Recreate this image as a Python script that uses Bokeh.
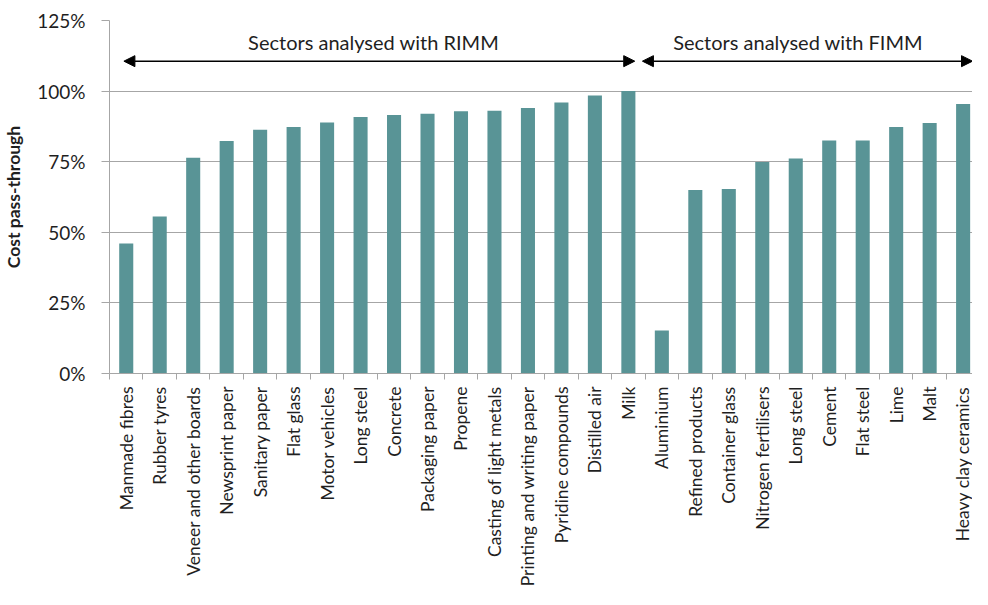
from math import pi
from bokeh.plotting import figure
from bokeh.models import (Range1d, FixedTicker, NumeralTickFormatter, Arrow,
                          NormalHead, Label, ColumnDataSource)
from bokeh.embed import file_html
from bokeh.resources import INLINE

# ---- data ----
rimm_sectors = ["Manmade fibres", "Rubber tyres", "Veneer and other boards",
                "Newsprint paper", "Sanitary paper", "Flat glass", "Motor vehicles",
                "Long steel", "Concrete", "Packaging paper", "Propene",
                "Casting of light metals", "Printing and writing paper",
                "Pyridine compounds", "Distilled air", "Milk"]
rimm_values = [0.46, 0.556, 0.764, 0.823, 0.863, 0.873, 0.889, 0.908, 0.915,
               0.920, 0.929, 0.930, 0.940, 0.960, 0.984, 1.00]
fimm_sectors = ["Aluminium", "Refined products", "Container glass",
                "Nitrogen fertilisers", "Long steel", "Cement", "Flat steel",
                "Lime", "Malt", "Heavy clay ceramics"]
fimm_values = [0.152, 0.650, 0.653, 0.749, 0.761, 0.825, 0.825, 0.873, 0.887, 0.954]
y_ticks = [0, 0.25, 0.5, 0.75, 1.0, 1.25]
group_titles = ["Sectors analysed with RIMM", "Sectors analysed with FIMM"]

sectors = rimm_sectors + fimm_sectors
values = rimm_values + fimm_values
n_rimm = len(rimm_sectors)
n_all = len(sectors)
xs = list(range(n_all))

FONT = "Lato"
GRID = "#a6a6a6"
TEXT = "#1f1f1f"
BAR = "#599496"

x_end = n_all - 0.72
p = figure(width=972, height=589, output_backend="svg", toolbar_location=None,
           x_range=Range1d(-0.5, x_end), y_range=Range1d(0, 1.25),
           min_border_left=106, min_border_top=20, min_border_right=0,
           min_border_bottom=213)
p.outline_line_color = None
p.background_fill_color = "white"
p.border_fill_color = "white"

src = ColumnDataSource(dict(x=xs, top=values))
p.vbar(x="x", top="top", width=0.42, bottom=0, source=src,
       fill_color=BAR, line_color=None)

# y axis
p.yaxis.ticker = FixedTicker(ticks=y_ticks)
p.yaxis.formatter = NumeralTickFormatter(format="0%")
p.yaxis.axis_label = "Cost pass-through"
p.yaxis.axis_label_text_font = FONT
p.yaxis.axis_label_text_font_style = "bold"
p.yaxis.axis_label_text_font_size = "17.5px"
p.yaxis.axis_label_text_color = TEXT
p.yaxis.axis_label_standoff = 10
p.yaxis.major_label_text_font = FONT
p.yaxis.major_label_text_font_size = "19px"
p.yaxis.major_label_text_color = TEXT
p.yaxis.major_label_standoff = 16
p.yaxis.major_tick_out = 8
p.yaxis.major_tick_in = 0
p.yaxis.minor_tick_line_color = None
p.yaxis.axis_line_color = GRID
p.yaxis.major_tick_line_color = GRID

# x axis
p.xaxis.ticker = FixedTicker(ticks=xs, minor_ticks=[i - 0.5 for i in range(n_all + 1)])
p.xaxis.major_label_overrides = {i: s for i, s in zip(xs, sectors)}
p.xaxis.major_label_orientation = pi / 2
p.xaxis.major_label_text_font = FONT
p.xaxis.major_label_text_font_size = "17.5px"
p.xaxis.major_label_text_color = TEXT
p.xaxis.major_label_standoff = 7
p.xaxis.major_tick_line_color = None
p.xaxis.major_tick_out = 0
p.xaxis.minor_tick_out = 6
p.xaxis.minor_tick_in = 0
p.xaxis.minor_tick_line_color = GRID
p.xaxis.axis_line_color = GRID

p.xgrid.grid_line_color = None
p.ygrid.grid_line_color = GRID
p.ygrid.ticker = FixedTicker(ticks=y_ticks)

# group arrows and titles
arrow_y = 1.106
title_y = 1.173
spans = [(-0.07, n_rimm - 1 + 0.19), (n_rimm - 0.58, x_end)]
title_x = [7.39, 20.07]
for (xa, xb), tx, t in zip(spans, title_x, group_titles):
    p.add_layout(Arrow(x_start=xa, y_start=arrow_y, x_end=xb, y_end=arrow_y,
                       line_color="black", line_width=1.5,
                       start=NormalHead(size=11, fill_color="black", line_color="black"),
                       end=NormalHead(size=11, fill_color="black", line_color="black")))
    p.add_layout(Label(x=tx, y=title_y, text=t, text_align="center",
                       text_baseline="middle", text_font=FONT,
                       text_font_size="20px", text_color=TEXT))

open("out.html", "w").write(file_html(p, INLINE))
